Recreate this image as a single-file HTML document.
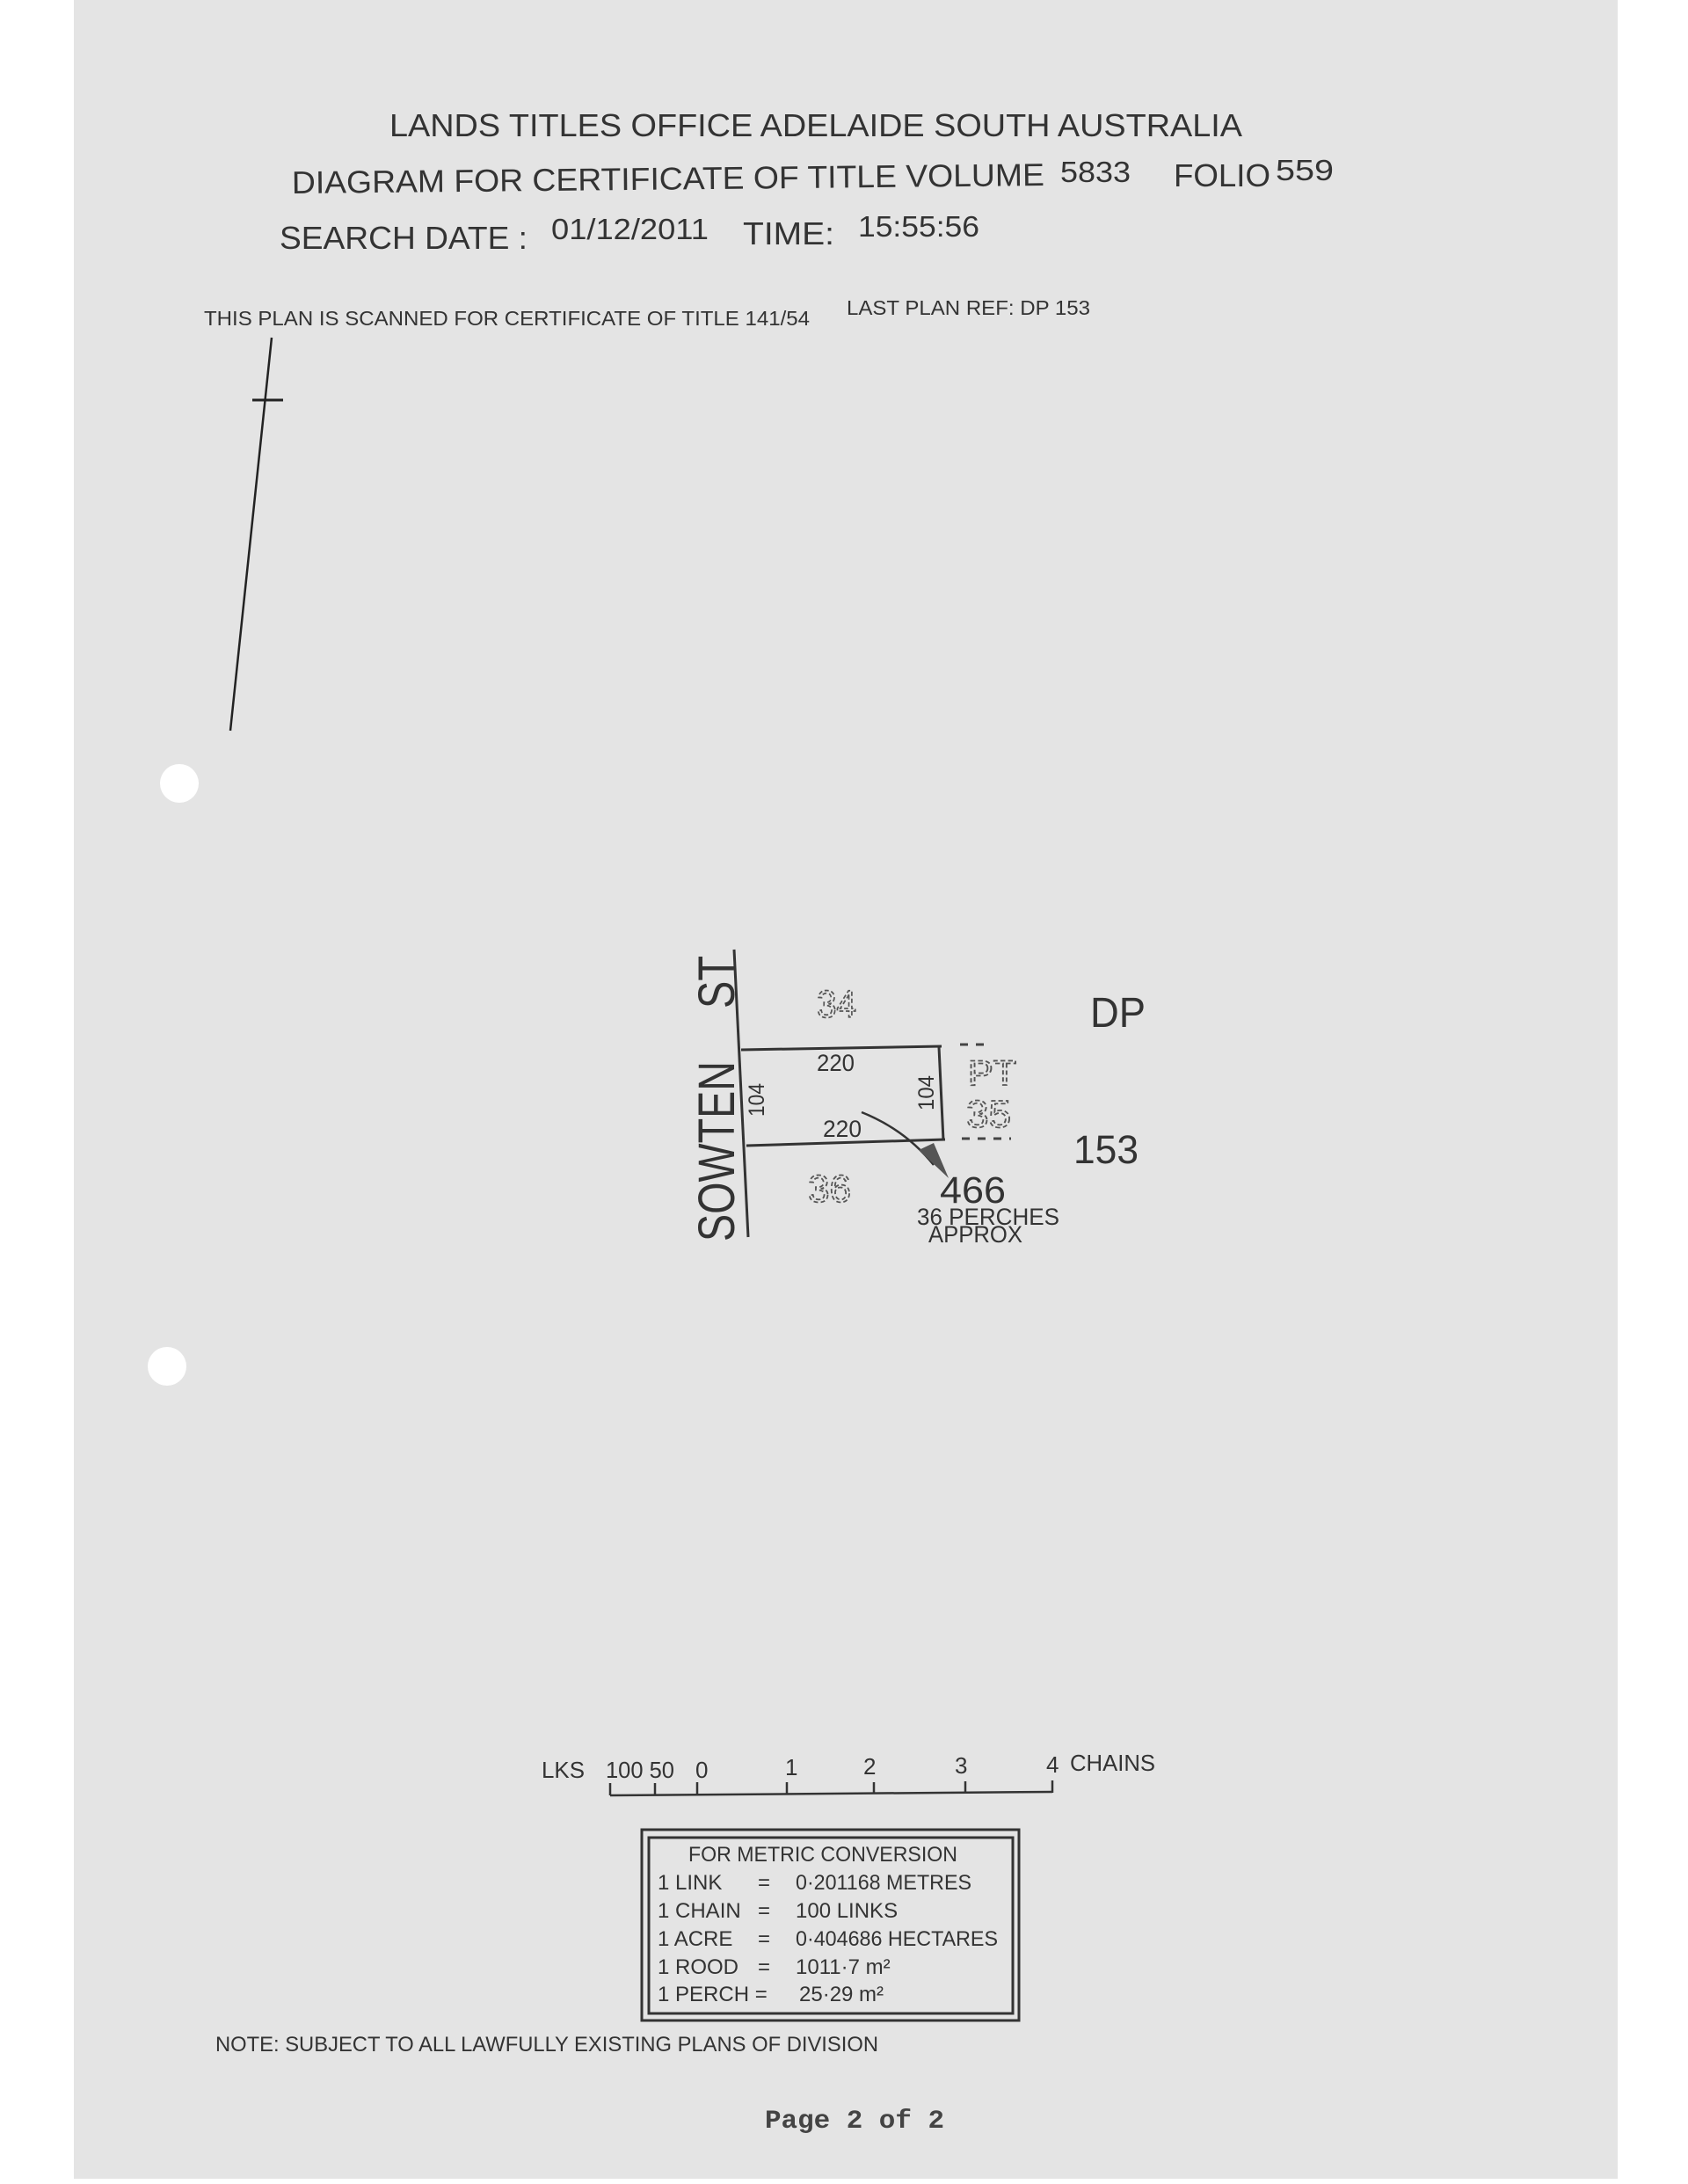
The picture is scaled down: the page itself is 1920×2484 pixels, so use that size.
<!DOCTYPE html>
<html><head><meta charset="utf-8"><style>
html,body{margin:0;padding:0;background:#fff;}
svg{display:block;}
text{font-family:"Liberation Sans",sans-serif;fill:#333;}
</style></head><body>
<svg width="1920" height="2484" viewBox="0 0 1920 2484" xmlns="http://www.w3.org/2000/svg">
<rect x="0" y="0" width="1920" height="2484" fill="#ffffff"/>
<rect x="84" y="0" width="1756" height="2478" fill="#e4e4e4"/>
<circle cx="204" cy="891" r="22" fill="#ffffff"/>
<circle cx="190" cy="1554" r="22" fill="#ffffff"/>
<text x="443" y="155" font-size="36" textLength="970" lengthAdjust="spacingAndGlyphs">LANDS TITLES OFFICE  ADELAIDE  SOUTH AUSTRALIA</text>
<text x="332" y="220" font-size="36" textLength="856" lengthAdjust="spacingAndGlyphs" transform="rotate(-0.6 332 220)">DIAGRAM FOR CERTIFICATE OF TITLE VOLUME</text>
<text x="1206" y="207" font-size="33" textLength="80" lengthAdjust="spacingAndGlyphs">5833</text>
<text x="1335" y="212" font-size="36" textLength="110" lengthAdjust="spacingAndGlyphs">FOLIO</text>
<text x="1451" y="205" font-size="33" textLength="66" lengthAdjust="spacingAndGlyphs">559</text>
<text x="318" y="283" font-size="36" textLength="282" lengthAdjust="spacingAndGlyphs">SEARCH DATE :</text>
<text x="627" y="272" font-size="33" textLength="179" lengthAdjust="spacingAndGlyphs">01/12/2011</text>
<text x="845" y="278" font-size="36" textLength="104" lengthAdjust="spacingAndGlyphs">TIME:</text>
<text x="976" y="269" font-size="33" textLength="138" lengthAdjust="spacingAndGlyphs">15:55:56</text>
<text x="232" y="370" font-size="23" textLength="689" lengthAdjust="spacingAndGlyphs">THIS PLAN IS SCANNED FOR CERTIFICATE OF TITLE  141/54</text>
<text x="963" y="358" font-size="23" textLength="277" lengthAdjust="spacingAndGlyphs">LAST PLAN REF:  DP 153</text>
<line x1="309" y1="384" x2="262" y2="831" stroke="#222" stroke-width="2.5"/>
<line x1="287" y1="455" x2="322" y2="455" stroke="#222" stroke-width="3"/>
<g stroke="#333" stroke-width="3" fill="none">
<line x1="835" y1="1080" x2="851" y2="1407"/>
<line x1="843" y1="1194" x2="1071" y2="1190"/>
<line x1="1068" y1="1191" x2="1073" y2="1297"/>
<line x1="849" y1="1303" x2="1075" y2="1296"/>
</g>
<g stroke="#444" stroke-width="3" stroke-dasharray="9 9">
<line x1="1092" y1="1188" x2="1125" y2="1188"/>
<line x1="1094" y1="1295" x2="1150" y2="1295"/>
</g>
<text x="0" y="0" font-size="58" textLength="205" lengthAdjust="spacingAndGlyphs" transform="translate(835 1412) rotate(-90)">SOWTEN</text>
<text x="0" y="0" font-size="58" textLength="60" lengthAdjust="spacingAndGlyphs" transform="translate(835 1147) rotate(-90)">ST</text>
<text x="929" y="1218" font-size="27" textLength="43" lengthAdjust="spacingAndGlyphs">220</text>
<text x="936" y="1293" font-size="27" textLength="44" lengthAdjust="spacingAndGlyphs">220</text>
<text x="0" y="0" font-size="25" textLength="38" lengthAdjust="spacingAndGlyphs" transform="translate(869 1270) rotate(-90)">104</text>
<text x="0" y="0" font-size="25" textLength="40" lengthAdjust="spacingAndGlyphs" transform="translate(1062 1263) rotate(-90)">104</text>
<g font-size="44" style="fill:none;stroke:#555;stroke-width:1.8;stroke-dasharray:5 3">
<text x="929" y="1157" textLength="45" lengthAdjust="spacingAndGlyphs" style="fill:none">34</text>
<text x="919" y="1367" textLength="49" lengthAdjust="spacingAndGlyphs" style="fill:none">36</text>
<text x="1101" y="1234" font-size="40" textLength="55" lengthAdjust="spacingAndGlyphs" style="fill:none">PT</text>
<text x="1099" y="1282" textLength="51" lengthAdjust="spacingAndGlyphs" style="fill:none">35</text>
</g>
<text x="1240" y="1168" font-size="48" textLength="63" lengthAdjust="spacingAndGlyphs">DP</text>
<text x="1221" y="1323" font-size="45" textLength="74" lengthAdjust="spacingAndGlyphs">153</text>
<path d="M980 1265 Q1030 1285 1062 1325" stroke="#333" stroke-width="2.5" fill="none"/>
<polygon points="1045,1308 1062,1300 1079,1340" fill="#555"/>
<text x="1069" y="1368" font-size="43" textLength="75" lengthAdjust="spacingAndGlyphs">466</text>
<text x="1043" y="1393" font-size="27" textLength="162" lengthAdjust="spacingAndGlyphs">36 PERCHES</text>
<text x="1056" y="1413" font-size="27" textLength="107" lengthAdjust="spacingAndGlyphs">APPROX</text>
<text x="616" y="2022" font-size="26" textLength="49" lengthAdjust="spacingAndGlyphs">LKS</text>
<text x="689" y="2022" font-size="26" textLength="78" lengthAdjust="spacingAndGlyphs">100 50</text>
<text x="791" y="2022" font-size="26">0</text>
<text x="893" y="2019" font-size="26">1</text>
<text x="982" y="2018" font-size="26">2</text>
<text x="1086" y="2017" font-size="26">3</text>
<text x="1190" y="2016" font-size="26">4</text>
<text x="1217" y="2014" font-size="26" textLength="97" lengthAdjust="spacingAndGlyphs">CHAINS</text>
<g stroke="#333" stroke-width="2.5">
<line x1="694" y1="2042" x2="1197" y2="2038"/>
<line x1="694" y1="2028" x2="694" y2="2042"/>
<line x1="745" y1="2028" x2="745" y2="2042"/>
<line x1="793" y1="2027" x2="793" y2="2041"/>
<line x1="895" y1="2027" x2="895" y2="2041"/>
<line x1="994" y1="2027" x2="994" y2="2040"/>
<line x1="1098" y1="2026" x2="1098" y2="2039"/>
<line x1="1197" y1="2025" x2="1197" y2="2039"/>
</g>
<rect x="730" y="2081" width="429" height="217" fill="none" stroke="#333" stroke-width="3"/>
<rect x="738" y="2090" width="414" height="200" fill="none" stroke="#333" stroke-width="3"/>
<g font-size="24">
<text x="783" y="2117" textLength="306" lengthAdjust="spacingAndGlyphs">FOR METRIC CONVERSION</text>
<text x="748" y="2149">1 LINK</text><text x="862" y="2149">=</text><text x="905" y="2149" textLength="200" lengthAdjust="spacingAndGlyphs">0·201168 METRES</text>
<text x="748" y="2181">1 CHAIN</text><text x="862" y="2181">=</text><text x="905" y="2181">100 LINKS</text>
<text x="748" y="2213">1 ACRE</text><text x="862" y="2213">=</text><text x="905" y="2213" textLength="230" lengthAdjust="spacingAndGlyphs">0·404686 HECTARES</text>
<text x="748" y="2245">1 ROOD</text><text x="862" y="2245">=</text><text x="905" y="2245">1011·7 m²</text>
<text x="748" y="2276">1 PERCH =</text><text x="909" y="2276">25·29 m²</text>
</g>
<text x="245" y="2333" font-size="24" textLength="754" lengthAdjust="spacingAndGlyphs">NOTE: SUBJECT TO ALL LAWFULLY EXISTING PLANS OF DIVISION</text>
<text x="870" y="2420" font-size="30" style="font-family:'Liberation Mono',monospace;font-weight:bold;fill:#444" textLength="204" lengthAdjust="spacingAndGlyphs">Page 2 of 2</text>
</svg>
</body></html>
